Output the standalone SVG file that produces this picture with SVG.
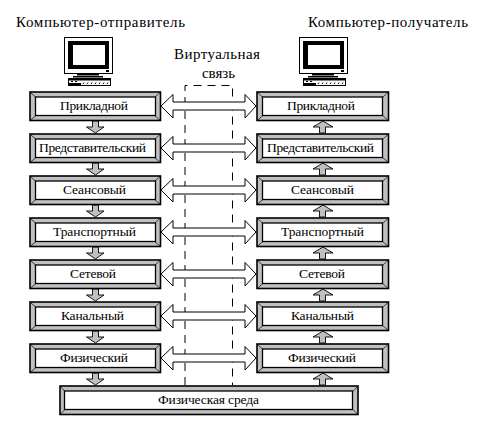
<svg xmlns="http://www.w3.org/2000/svg" width="490" height="431" viewBox="0 0 490 431">
<style>
text{font-family:"Liberation Serif","Times New Roman",serif;fill:#000;font-size:13.5px}
.t{font-size:15px}
.o{fill:#c0c0c0;stroke:#000;stroke-width:1.6}
.i{fill:#fff;stroke:#000;stroke-width:1.3}
.d{stroke:#000;stroke-width:.7;fill:none}
.a{fill:#c0c0c0;stroke:#000;stroke-width:.9}
.b{fill:#fff;stroke:#000;stroke-width:1}
.v{fill:none;stroke:#000;stroke-width:1;stroke-dasharray:8 6}
</style>
<defs>
<g id="pc">
<rect x="64.5" y="37.5" width="48" height="36" fill="#fff" stroke="#000"/>
<rect x="68" y="41" width="41" height="28"/>
<rect x="73" y="45" width="32" height="20" fill="#fff"/>
<rect x="106" y="70" width="3" height="2"/>
<rect x="77" y="74" width="22" height="1.5"/>
<rect x="73" y="76" width="30" height="1.5"/>
<rect x="68.500" y="78.500" width="42" height="7" fill="#fff" stroke="#000"/>
<rect x="69" y="79" width="41" height="1.500"/>
<rect x="69" y="83" width="12" height="2"/>
<path d="M71 81.500h2M75 81.500h2M83 84l1-1.500M87 84l1-1.500M91 84l1-1.500M95 84l1-1.500M99 84l1-1.500M103 84l1-1.500M107 84l1-1.500" stroke="#000" fill="none"/>
</g>
<g id="boxL">
<rect class="o" x="30" y="92" width="130.500" height="28.500"/>
<path class="d" d="M30 92l6 5.500M160.500 92l-6 5.500M30 120.500l6-5M160.500 120.500l-6-5"/>
<rect class="i" x="35.500" y="97" width="120" height="18.500"/>
</g>
<g id="boxR">
<rect class="o" x="257" y="92" width="131.500" height="28.500"/>
<path class="d" d="M257 92l6 5.500M388.500 92l-6 5.500M257 120.500l6-5M388.500 120.500l-6-5"/>
<rect class="i" x="262.500" y="97" width="120" height="18.500"/>
</g>
<polygon id="dbl" class="b" points="161,106 173,94.500 173,102 245,102 245,94.500 256,106 245,118 245,110 173,110 173,118"/>
<polygon id="dn" class="a" points="92.500,121 98.500,121 98.500,127 104,127 95.500,133 86.500,127 92.500,127"/>
<polygon id="up" class="a" points="319.500,133 325.500,133 325.500,127 333,127 323,121 313,127 319.500,127"/>
</defs>

<g id="connectors">
<path class="v" d="M185 385V85.500H232.500V385"/>
<use href="#dbl"/>
<use href="#dbl" y="42"/>
<use href="#dbl" y="84"/>
<use href="#dbl" y="126"/>
<use href="#dbl" y="168"/>
<use href="#dbl" y="210"/>
<use href="#dbl" y="252"/>
<use href="#dn"/>
<use href="#dn" y="42"/>
<use href="#dn" y="84"/>
<use href="#dn" y="126"/>
<use href="#dn" y="168"/>
<use href="#dn" y="210"/>
<use href="#dn" y="252"/>
<use href="#up"/>
<use href="#up" y="42"/>
<use href="#up" y="84"/>
<use href="#up" y="126"/>
<use href="#up" y="168"/>
<use href="#up" y="210"/>
<use href="#up" y="252"/>
</g>

<g id="sender"><text class="t" x="16" y="27" textLength="169">Компьютер-отправитель</text><use href="#pc"/></g>
<g id="receiver"><text class="t" x="308" y="27" textLength="160">Компьютер-получатель</text><use href="#pc" x="235"/></g>
<g id="virtual"><text class="t" x="174" y="59" textLength="86">Виртуальная</text><text class="t" x="202" y="77.500" textLength="33">связь</text></g>

<g id="l1"><use href="#boxL"/><text x="60" y="110" textLength="68">Прикладной</text></g>
<g id="l2"><use href="#boxL" y="42"/><text x="39" y="152" textLength="107">Представительский</text></g>
<g id="l3"><use href="#boxL" y="84"/><text x="63" y="194" textLength="63">Сеансовый</text></g>
<g id="l4"><use href="#boxL" y="126"/><text x="53" y="236" textLength="83">Транспортный</text></g>
<g id="l5"><use href="#boxL" y="168"/><text x="70" y="278" textLength="46">Сетевой</text></g>
<g id="l6"><use href="#boxL" y="210"/><text x="61" y="320" textLength="63">Канальный</text></g>
<g id="l7"><use href="#boxL" y="252"/><text x="60" y="362" textLength="68">Физический</text></g>

<g id="r1"><use href="#boxR"/><text x="287" y="110" textLength="68">Прикладной</text></g>
<g id="r2"><use href="#boxR" y="42"/><text x="267" y="152" textLength="107">Представительский</text></g>
<g id="r3"><use href="#boxR" y="84"/><text x="291" y="194" textLength="63">Сеансовый</text></g>
<g id="r4"><use href="#boxR" y="126"/><text x="281" y="236" textLength="83">Транспортный</text></g>
<g id="r5"><use href="#boxR" y="168"/><text x="299" y="278" textLength="46">Сетевой</text></g>
<g id="r6"><use href="#boxR" y="210"/><text x="291" y="320" textLength="63">Канальный</text></g>
<g id="r7"><use href="#boxR" y="252"/><text x="288" y="362" textLength="68">Физический</text></g>

<g id="medium">
<rect class="o" x="60" y="386" width="298" height="28.500"/>
<path class="d" d="M60 386l5 5.500M358 386l-5 5.500M60 414.500l5-5M358 414.500l-5-5"/>
<rect class="i" x="64.500" y="391" width="288" height="18.500"/>
<text x="158" y="404" textLength="101">Физическая среда</text>
</g>
</svg>
